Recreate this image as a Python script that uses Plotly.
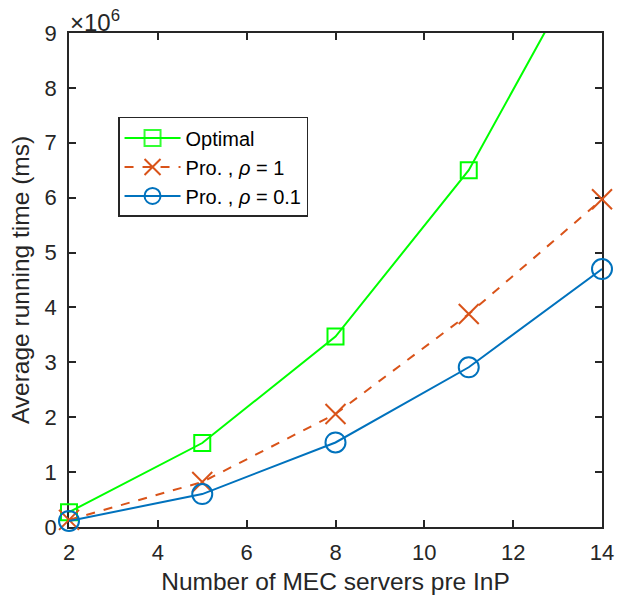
import plotly.graph_objects as go

servers = [2, 5, 8, 11, 14]
optimal = [0.27e6, 1.53e6, 3.47e6, 6.5e6, 10.9e6]
pro_rho1 = [0.13e6, 0.82e6, 2.06e6, 3.88e6, 5.97e6]
pro_rho01 = [0.11e6, 0.60e6, 1.54e6, 2.91e6, 4.70e6]
y_ticks = [i * 1e6 for i in range(10)]
y_tick_labels = [str(i) for i in range(10)]
x_ticks = [2, 4, 6, 8, 10, 12, 14]

AX = "#262626"
fig = go.Figure()
fig.add_trace(go.Scatter(
    x=servers, y=optimal, mode="lines+markers", name="Optimal",
    line=dict(color="#00FF00", width=2),
    marker=dict(symbol="square-open", size=16, color="#00FF00",
                line=dict(width=2), opacity=[1, 1, 1, 1, 0]),
    cliponaxis=False))
fig.add_trace(go.Scatter(
    x=servers, y=pro_rho1, mode="lines+markers", name="Pro. , <i>ρ</i> = 1",
    line=dict(color="#D95319", width=2, dash="dash"),
    marker=dict(symbol="x-thin-open", size=20, color="#D95319",
                line=dict(width=2, color="#D95319")),
    cliponaxis=False))
fig.add_trace(go.Scatter(
    x=servers, y=pro_rho01, mode="lines+markers", name="Pro. , <i>ρ</i> = 0.1",
    line=dict(color="#0072BD", width=2),
    marker=dict(symbol="circle-open", size=20, color="#0072BD",
                line=dict(width=2)),
    cliponaxis=False))

fig.update_layout(
    width=627, height=603,
    margin=dict(l=69, r=25, t=33, b=76),
    plot_bgcolor="white", paper_bgcolor="white",
    font=dict(family="Liberation Sans, Arial, sans-serif", color=AX, size=22),
    showlegend=True,
    legend=dict(x=0.092, y=0.83, xanchor="left", yanchor="top",
                bgcolor="white", bordercolor=AX, borderwidth=1.5,
                font=dict(size=20, color="black"), itemwidth=56,
                tracegroupgap=0),
    annotations=[dict(text="×10<sup>6</sup>", x=0, y=1, xref="paper", yref="paper",
                      xanchor="left", yanchor="bottom", showarrow=False,
                      font=dict(size=24, color=AX), yshift=-5, xshift=-1)],
)
fig.update_xaxes(
    range=[2, 14], tickvals=x_ticks, ticks="inside", ticklen=7, tickwidth=1.5,
    tickcolor=AX, showline=True, linecolor=AX, linewidth=1.5, mirror="ticks",
    showgrid=False, zeroline=False, layer="below traces", ticklabelstandoff=5,
    title=dict(text="Number of MEC servers pre InP", font=dict(size=24.5), standoff=9),
    tickfont=dict(size=22))
fig.update_yaxes(
    range=[0, 9e6], tickvals=y_ticks, ticktext=y_tick_labels, ticks="inside",
    ticklen=7, tickwidth=1.5, tickcolor=AX, showline=True, linecolor=AX,
    linewidth=1.5, mirror="ticks", showgrid=False, zeroline=False,
    layer="below traces", ticklabelstandoff=6,
    title=dict(text="Average running time (ms)", font=dict(size=24.5), standoff=8),
    tickfont=dict(size=22))

fig.write_html("out.html")
